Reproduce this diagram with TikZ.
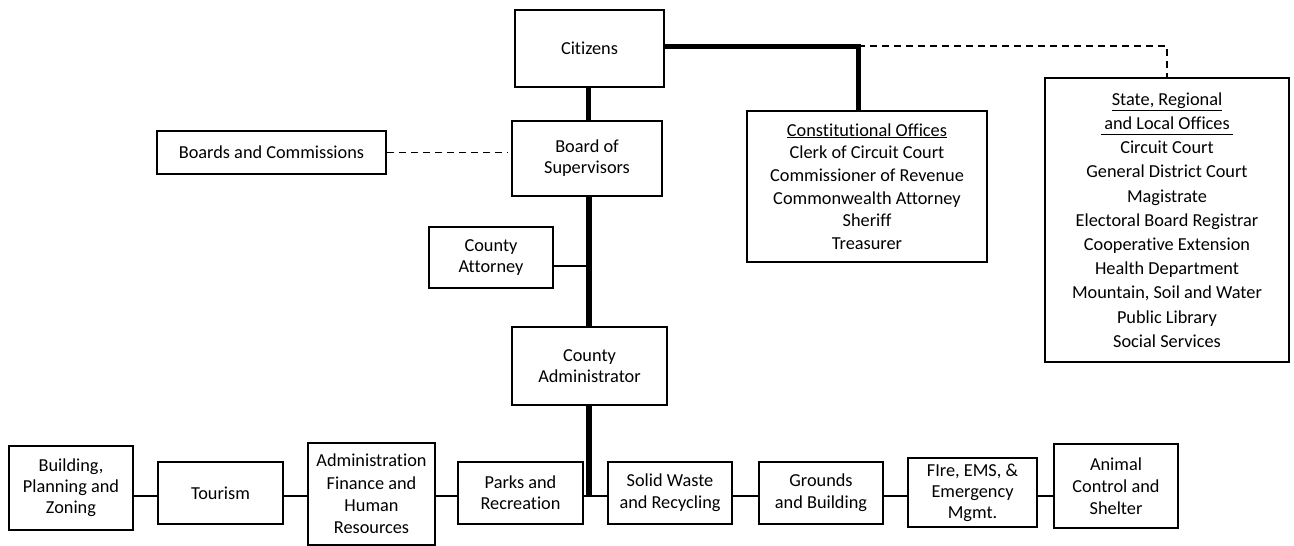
\documentclass[tikz,border=0pt]{standalone}
\usepackage{fontspec}
\setmainfont{Carlito}[Ligatures={NoCommon,NoContextual}]
\newcommand{\myul}[3]{\setbox0\hbox{#3}\rlap{\rule[-#1]{\wd0}{#2}}\box0}
\begin{document}
\begin{tikzpicture}[x=1pt,y=-1pt,
  box/.style={draw, line width=1.6pt, inner sep=0pt, align=center, font=\fontsize{18.3}{21}\selectfont},
  tbox/.style={box, line width=2.6pt},
  spine/.style={line width=6.5pt},
  spinethin/.style={line width=5pt},
  link/.style={line width=2pt},
  thinlink/.style={line width=1.3pt},
  dashlink/.style={line width=1.3pt, dash pattern=on 7pt off 5pt}]
\useasboundingbox (0,0) rectangle (1294,546);
% top part
\node[box, minimum width=149pt, minimum height=77pt] (cit) at (589.5,48.5) {Citizens};
\node[box, minimum width=150pt, minimum height=75pt] (bos) at (587,158.5) {Board of\\Supervisors};
\node[box, minimum width=229pt, minimum height=43pt] (bc) at (271.5,152.5) {Boards and Commissions};
\node[box, minimum width=124pt, minimum height=61pt] (catt) at (491,257.5) {County\\Attorney};
\node[box, minimum width=155pt, minimum height=78pt] (cadm) at (589.5,366) {County\\Administrator};
\node[box, minimum width=240pt, minimum height=151pt, font=\fontsize{18.3}{22.7}\selectfont] (con) at (867,186.5)
  {\myul{2pt}{0.9pt}{Constitutional Offices}\\Clerk of Circuit Court\\Commissioner of Revenue\\Commonwealth Attorney\\Sheriff\\Treasurer};
\node[box, minimum width=244pt, minimum height=284pt, font=\fontsize{18.3}{24.2}\selectfont] (st) at (1167,220)
  {\myul{6pt}{1.4pt}{State, Regional}\\\myul{6pt}{1.4pt}{\,and Local Offices\,}\\Circuit Court\\General District Court\\Magistrate\\Electoral Board Registrar\\Cooperative Extension\\Health Department\\Mountain, Soil and Water\\Public Library\\Social Services};
% bottom row
\node[tbox, minimum width=124pt, minimum height=84pt] (bpz) at (71,488) {Building,\\Planning and\\Zoning};
\node[box, minimum width=125pt, minimum height=62pt] (tour) at (220.5,493) {Tourism};
\node[tbox, minimum width=127pt, minimum height=102pt, font=\fontsize{18.3}{22.3}\selectfont] (adm) at (371.5,494) {Administration\\Finance and\\Human\\Resources};
\node[box, minimum width=125pt, minimum height=62pt] (parks) at (520.5,493) {Parks and\\Recreation};
\node[box, minimum width=124pt, minimum height=62pt, font=\fontsize{18.3}{22}\selectfont] (solid) at (670,493) {Solid Waste\\and Recycling};
\node[box, minimum width=124pt, minimum height=62pt, font=\fontsize{18.3}{22}\selectfont] (grounds) at (821,493) {Grounds\\and Building};
\node[box, minimum width=129pt, minimum height=69pt] (fire) at (972.5,492.5) {FIre, EMS, \&\\Emergency\\Mgmt.};
\node[tbox, minimum width=124pt, minimum height=84pt, font=\fontsize{18.3}{22}\selectfont] (animal) at (1116,486) {Animal\\Control and\\Shelter};
% junction coordinates
\coordinate (cj) at (858,46);
\coordinate (bus) at (589,496);
% connectors
\draw[spinethin] (cit.south -| 588,0) -- (bos.north -| 588,0);
\draw[spinethin] (cit.east |- cj) -- (cj) -- (cj |- con.north);
\draw[dashlink] (cj) -- (cj -| st.north) -- (st.north);
\draw[dashlink] (bc.east) -- ([xshift=-4pt]bos.west |- bc.east);
\draw[spine] (bus |- bos.south) -- (bus |- cadm.north);
\draw[thinlink] ([yshift=-8.5pt]catt.east) -- ([yshift=-8.5pt]catt.east -| bus);
\draw[spine] (bus |- cadm.south) -- ([yshift=-1pt]bus);
\draw[link] (bpz.east |- bus) -- (tour.west |- bus);
\draw[link] (tour.east |- bus) -- (adm.west |- bus);
\draw[link] (adm.east |- bus) -- (parks.west |- bus);
\draw[link] (parks.east |- bus) -- (bus);
\draw[link] (bus) -- (solid.west |- bus);
\draw[link] (solid.east |- bus) -- (grounds.west |- bus);
\draw[link] (grounds.east |- bus) -- (fire.west |- bus);
\draw[link] (fire.east |- bus) -- (animal.west |- bus);
\end{tikzpicture}
\end{document}
